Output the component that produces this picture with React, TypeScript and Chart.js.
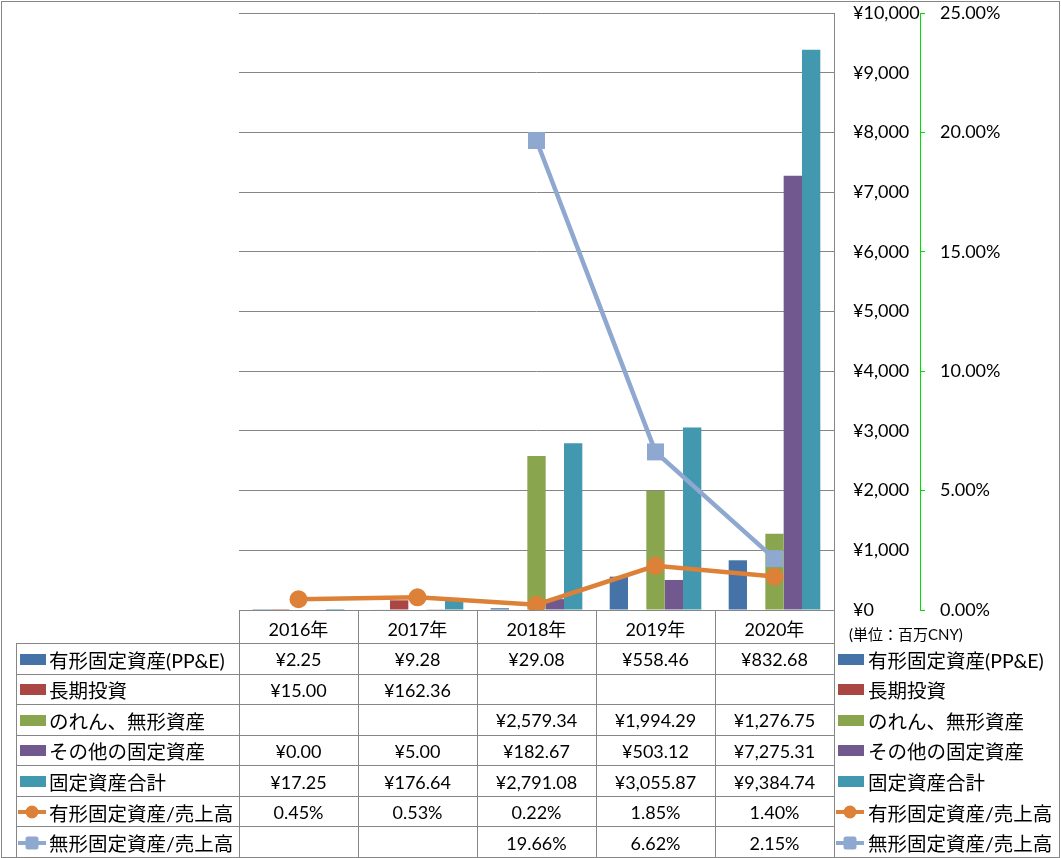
import React, { useEffect, useRef } from 'react';
import { Chart, registerables } from 'chart.js';

Chart.register(...registerables);

// ---------- data ----------
const categories = ['2016年', '2017年', '2018年', '2019年', '2020年'];
const ppe = [2.25, 9.28, 29.08, 558.46, 832.68];
const longTermInvest = [15.0, 162.36, null, null, null];
const goodwillIntangible = [null, null, 2579.34, 1994.29, 1276.75];
const otherFixed = [0.0, 5.0, 182.67, 503.12, 7275.31];
const totalFixed = [17.25, 176.64, 2791.08, 3055.87, 9384.74];
const ppeToSales = [0.45, 0.53, 0.22, 1.85, 1.4];
const intangibleToSales = [null, null, 19.66, 6.62, 2.15];
const yMax = 10000;
const yStep = 1000;
const y1Max = 25;
const y1Step = 5;
const unitLabel = '(単位：百万CNY)';

// ---------- layout / style ----------
const W = 1061;
const H = 858;
const PLOT_LEFT = 239;
const PLOT_TOP = 13;
const PLOT_RIGHT = 834;
const PLOT_BOTTOM = 610;
const Y_AXIS_W = 86;
const Y1_AXIS_W = 100;
const GRID = '#868686';
const GREEN = '#00e000';
const NUM_FONT = "Lato, 'Noto Sans CJK JP', sans-serif";
const JP_FONT = "Lato, 'Noto Sans CJK JP', sans-serif";
const FS = 18;
const JP_FS = 19.5;

type Series = { label: string; data: (number | null)[]; color: string; kind: 'bar' | 'circle' | 'square' };

const barSeries: Series[] = [
  { label: '有形固定資産(PP&E)', data: ppe, color: '#4572A7', kind: 'bar' },
  { label: '長期投資', data: longTermInvest, color: '#AA4643', kind: 'bar' },
  { label: 'のれん、無形資産', data: goodwillIntangible, color: '#89A54E', kind: 'bar' },
  { label: 'その他の固定資産', data: otherFixed, color: '#71588F', kind: 'bar' },
  { label: '固定資産合計', data: totalFixed, color: '#4198AF', kind: 'bar' },
];
const lineSeries: Series[] = [
  { label: '有形固定資産/売上高', data: ppeToSales, color: '#DC8137', kind: 'circle' },
  { label: '無形固定資産/売上高', data: intangibleToSales, color: '#8FA8D0', kind: 'square' },
];

const fmt2 = (v: number) =>
  v.toLocaleString('en-US', { minimumFractionDigits: 2, maximumFractionDigits: 2 });

function Key({ kind, color }: { kind: Series['kind']; color: string }) {
  if (kind === 'bar') {
    return <div style={{ width: 26, height: 11, background: color }} />;
  }
  return (
    <svg width={28} height={14} style={{ display: 'block' }}>
      <line x1={0} y1={7} x2={28} y2={7} stroke={color} strokeWidth={4} />
      {kind === 'circle' ? (
        <circle cx={14} cy={7} r={6.5} fill={color} />
      ) : (
        <rect x={7.5} y={0.5} width={13} height={13} rx={2.5} fill={color} />
      )}
    </svg>
  );
}

export default function App() {
  const canvasRef = useRef<HTMLCanvasElement>(null);

  useEffect(() => {
    const prevMargin = document.body.style.margin;
    document.body.style.margin = '0';
    const canvas = canvasRef.current!;
    const noPad = (s: any) => {
      s.paddingTop = 0;
      s.paddingBottom = 0;
    };
    const chart = new Chart(canvas, {
      type: 'bar',
      data: {
        labels: categories,
        datasets: [
          ...barSeries.map((s) => ({
            type: 'bar' as const,
            label: s.label,
            data: s.data,
            backgroundColor: s.color,
            borderWidth: 0,
            yAxisID: 'y',
            order: 1,
            categoryPercentage: 0.77,
            barPercentage: 1,
          })),
          ...lineSeries.map((s) => ({
            type: 'line' as const,
            label: s.label,
            data: s.data,
            borderColor: s.color,
            backgroundColor: s.color,
            borderWidth: 4.5,
            yAxisID: 'y1',
            order: 0,
            tension: 0,
            spanGaps: false,
            pointStyle: s.kind === 'circle' ? 'circle' : 'rect',
            pointRadius: s.kind === 'circle' ? 9 : 12,
            pointBackgroundColor: s.color,
            pointBorderColor: s.color,
            pointBorderWidth: 0,
          })),
        ] as any,
      },
      options: {
        responsive: false,
        animation: false,
        devicePixelRatio: 1,
        events: [],
        layout: {
          padding: {
            left: PLOT_LEFT,
            top: PLOT_TOP,
            right: W - PLOT_RIGHT - Y_AXIS_W - Y1_AXIS_W,
            bottom: H - PLOT_BOTTOM,
          },
        },
        plugins: { legend: { display: false }, tooltip: { enabled: false } },
        scales: {
          x: {
            grid: { display: false, drawTicks: false },
            border: { display: true, color: GRID },
            ticks: { display: false },
            afterFit: (s: any) => {
              s.height = 0;
              s.paddingLeft = 0;
              s.paddingRight = 0;
            },
          },
          y: {
            position: 'right',
            weight: 0,
            min: 0,
            max: yMax,
            ticks: {
              stepSize: yStep,
              padding: 19,
              color: '#000',
              font: { family: NUM_FONT, size: FS },
              callback: (v: any) => '¥' + Number(v).toLocaleString('en-US'),
            },
            grid: { color: GRID, drawTicks: false },
            border: { display: true, color: GRID },
            afterFit: (s: any) => {
              s.width = Y_AXIS_W;
              noPad(s);
            },
          },
          y1: {
            position: 'right',
            weight: 1,
            min: 0,
            max: y1Max,
            ticks: {
              stepSize: y1Step,
              padding: 15,
              color: '#000',
              font: { family: NUM_FONT, size: FS },
              callback: (v: any) => Number(v).toFixed(2) + '%',
            },
            grid: { drawOnChartArea: false, color: GREEN, drawTicks: true, tickLength: 5 },
            border: { display: true, color: GREEN, dash: [3, 3] },
            afterFit: (s: any) => {
              s.width = Y1_AXIS_W;
              noPad(s);
            },
          },
        } as any,
      },
    });
    return () => {
      chart.destroy();
      document.body.style.margin = prevMargin;
    };
  }, []);

  const rows = [
    ...barSeries.map((s) => ({ ...s, cells: s.data.map((v) => (v == null ? '' : '¥' + fmt2(v))) })),
    ...lineSeries.map((s) => ({ ...s, cells: s.data.map((v) => (v == null ? '' : v.toFixed(2) + '%')) })),
  ];

  const colW = (PLOT_RIGHT - PLOT_LEFT) / categories.length;
  const HEADER_BOTTOM = 643;
  const TABLE_BOTTOM = 857;
  const LABEL_LEFT = 16;
  const rowH = (TABLE_BOTTOM - HEADER_BOTTOM) / rows.length;

  const lines: React.ReactNode[] = [];
  for (let i = 0; i <= rows.length; i++) {
    const y = Math.round(HEADER_BOTTOM + i * rowH);
    lines.push(
      <div key={'h' + i} style={{ position: 'absolute', left: LABEL_LEFT, top: y, width: PLOT_RIGHT - LABEL_LEFT + 1, height: 1, background: GRID }} />
    );
  }
  lines.push(
    <div key="vl" style={{ position: 'absolute', left: LABEL_LEFT, top: HEADER_BOTTOM, width: 1, height: TABLE_BOTTOM - HEADER_BOTTOM + 1, background: GRID }} />
  );
  for (let i = 0; i <= categories.length; i++) {
    const x = Math.round(PLOT_LEFT + i * colW);
    lines.push(
      <div key={'v' + i} style={{ position: 'absolute', left: x, top: PLOT_BOTTOM, width: 1, height: TABLE_BOTTOM - PLOT_BOTTOM + 1, background: GRID }} />
    );
  }

  const cellStyle = (left: number, top: number, width: number, height: number): React.CSSProperties => ({
    position: 'absolute',
    left,
    top,
    width,
    height,
    display: 'flex',
    alignItems: 'center',
    justifyContent: 'center',
    fontFamily: NUM_FONT,
    fontSize: FS,
    color: '#000',
    whiteSpace: 'nowrap',
  });

  return (
    <div style={{ position: 'absolute', left: 0, top: 0, width: W, height: H, background: '#fff', overflow: 'hidden' }}>
      <canvas ref={canvasRef} width={W} height={H} style={{ position: 'absolute', left: 0, top: 0, width: W, height: H }} />
      <div style={{ position: 'absolute', left: 1, top: 1, width: W - 2, height: H - 1, border: '1px solid ' + GRID, boxSizing: 'border-box', pointerEvents: 'none' }} />
      {lines}
      {categories.map((c, i) => (
        <div key={'c' + i} style={cellStyle(PLOT_LEFT + i * colW, PLOT_BOTTOM + 1, colW, HEADER_BOTTOM - PLOT_BOTTOM)}>
          {c}
        </div>
      ))}
      <div style={{ position: 'absolute', left: 849, top: 622, height: 22, display: 'flex', alignItems: 'center', fontFamily: JP_FONT, fontSize: 15, whiteSpace: 'nowrap' }}>
        {unitLabel}
      </div>
      {rows.map((r, ri) => {
        const top = HEADER_BOTTOM + ri * rowH + 1;
        return (
          <React.Fragment key={'r' + ri}>
            <div style={{ position: 'absolute', left: r.kind === 'bar' ? 20 : 18, top, height: rowH, display: 'flex', alignItems: 'center' }}>
              <Key kind={r.kind} color={r.color} />
            </div>
            <div style={{ ...cellStyle(49, top, 190, rowH), justifyContent: 'flex-start', fontFamily: JP_FONT, fontSize: JP_FS }}>{r.label}</div>
            {r.cells.map((t, ci) => (
              <div key={ci} style={cellStyle(PLOT_LEFT + ci * colW, top, colW, rowH)}>
                {t}
              </div>
            ))}
            <div style={{ position: 'absolute', left: r.kind === 'bar' ? 838 : 836, top, height: rowH, display: 'flex', alignItems: 'center' }}>
              <Key kind={r.kind} color={r.color} />
            </div>
            <div style={{ ...cellStyle(868, top, 192, rowH), justifyContent: 'flex-start', fontFamily: JP_FONT, fontSize: JP_FS }}>{r.label}</div>
          </React.Fragment>
        );
      })}
    </div>
  );
}
